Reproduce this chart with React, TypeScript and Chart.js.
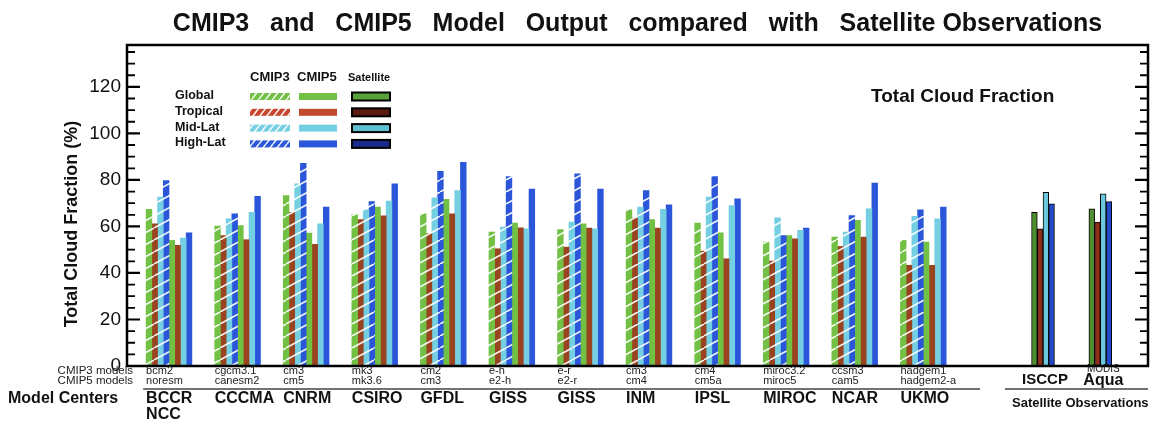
import React, { useEffect, useRef } from 'react';
import { Chart, registerables } from 'chart.js';

Chart.register(...registerables);

// ---------------- data ----------------
const modelCenters = ['BCCR\nNCC', 'CCCMA', 'CNRM', 'CSIRO', 'GFDL', 'GISS', 'GISS', 'INM', 'IPSL', 'MIROC', 'NCAR', 'UKMO'];
const cmip3Models = ['bcm2', 'cgcm3.1', 'cm3', 'mk3', 'cm2', 'e-h', 'e-r', 'cm3', 'cm4', 'miroc3.2', 'ccsm3', 'hadgem1'];
const cmip5Models = ['noresm', 'canesm2', 'cm5', 'mk3.6', 'cm3', 'e2-h', 'e2-r', 'cm4', 'cm5a', 'miroc5', 'cam5', 'hadgem2-a'];

const cmip3Global = [67.3, 60.1, 73.3, 65.1, 65.4, 57.6, 58.6, 67.1, 61.4, 53.3, 55.4, 54.0];
const cmip3Tropical = [61.1, 56.1, 66.1, 62.9, 56.9, 50.4, 51.1, 63.6, 49.4, 45.1, 51.4, 43.3];
const cmip3MidLat = [72.6, 63.3, 78.3, 67.1, 72.3, 59.7, 61.9, 68.3, 72.6, 63.7, 57.6, 64.3];
const cmip3HighLat = [79.7, 65.4, 87.1, 70.7, 83.7, 81.4, 82.6, 75.4, 81.4, 56.1, 64.7, 67.1];

const cmip5Global = [54.0, 60.4, 57.1, 68.3, 71.6, 61.4, 61.1, 63.0, 57.3, 56.1, 62.6, 53.3];
const cmip5Tropical = [51.9, 54.3, 52.3, 64.6, 65.4, 59.4, 59.3, 59.3, 46.1, 54.7, 55.4, 43.3];
const cmip5MidLat = [55.0, 66.1, 61.1, 70.9, 75.4, 59.0, 59.0, 67.3, 69.0, 58.3, 67.6, 63.3];
const cmip5HighLat = [57.3, 72.9, 68.3, 78.3, 87.6, 76.1, 76.1, 69.3, 71.9, 59.3, 78.6, 68.3];

const satellites = ['ISCCP', 'MODIS\nAqua'];
const satGlobal = [66.1, 67.6];
const satTropical = [59.0, 61.9];
const satMidLat = [74.7, 74.0];
const satHighLat = [69.7, 70.7];

const yTickStep = 20;
const legendRows = ['Global', 'Tropical', 'Mid-Lat', 'High-Lat'];
const legendCols = ['CMIP3', 'CMIP5', 'Satellite'];

// ---------------- layout / style ----------------
const FONT = '"Liberation Sans", Arial, Helvetica, sans-serif';
const Y_MAX = 138;
const X_MIN = -0.6125;
const X_MAX = 14.277;
const SAT_X = [12.746, 13.582];
const BAR_W = 5.72;

const COL = {
  g: '#72c145',
  t: '#9a4320',
  m: '#74cfe3',
  h: '#2b56d9',
};
const SAT_COL = { g: '#4f8e2e', t: '#8a2f1a', m: '#6cc9dd', h: '#2348c8' };
const LEG_SAT = { g: '#5aa13a', t: '#5a1a12', m: '#5fc0d0', h: '#1a2a8a' };

function makeHatch(color: string, w: number, h: number, lw: number) {
  const c = document.createElement('canvas');
  c.width = w;
  c.height = h;
  const g = c.getContext('2d')!;
  g.fillStyle = color;
  g.fillRect(0, 0, w, h);
  g.strokeStyle = 'rgba(255,255,255,0.92)';
  g.lineWidth = lw;
  g.beginPath();
  for (const dx of [-w, 0, w]) {
    g.moveTo(dx, h);
    g.lineTo(dx + w, 0);
  }
  g.stroke();
  return g.createPattern(c, 'repeat')!;
}

export default function App() {
  const ref = useRef<HTMLCanvasElement>(null);

  useEffect(() => {
    const canvas = ref.current!;
    const modelX = cmip3Models.map((_, i) => i);
    const pts = (vals: number[], xs: number[]) => vals.map((v, i) => ({ x: xs[i], y: v }));

    const hatch = {
      g: makeHatch(COL.g, 22, 12, 1.6),
      t: makeHatch(COL.t, 22, 12, 1.6),
      m: makeHatch(COL.m, 22, 12, 1.6),
      h: makeHatch(COL.h, 22, 12, 1.6),
    };
    const legHatch = {
      g: makeHatch(COL.g, 7, 9, 1.6),
      t: makeHatch('#c8452e', 7, 9, 1.6),
      m: makeHatch(COL.m, 7, 9, 1.6),
      h: makeHatch(COL.h, 7, 9, 1.6),
    };
    const legSolid = { g: COL.g, t: '#c24a2c', m: COL.m, h: COL.h };

    const modelDs = (label: string, vals: number[], bg: any) => ({
      label,
      data: pts(vals, modelX),
      backgroundColor: bg,
      borderWidth: 0,
    });
    const satDs = (label: string, vals: number[], bg: string) => ({
      label,
      data: pts(vals, SAT_X),
      backgroundColor: bg,
      borderColor: '#000',
      borderWidth: 1,
    });

    const decor = {
      id: 'decor',
      beforeDraw(chart: any) {
        const { ctx, width, height } = chart;
        ctx.save();
        ctx.fillStyle = '#fff';
        ctx.fillRect(0, 0, width, height);
        ctx.restore();
      },
      afterDraw(chart: any) {
        const { ctx, chartArea: a, scales } = chart;
        const xs = scales.x;
        const ys = scales.y;
        ctx.save();

        // frame
        ctx.strokeStyle = '#000';
        ctx.lineWidth = 2.5;
        ctx.strokeRect(a.left, a.top, a.right - a.left, a.bottom - a.top);

        // inward ticks on both sides
        for (let v = 5; v < Y_MAX; v += 5) {
          const y = ys.getPixelForValue(v);
          const major = v % yTickStep === 0;
          const len = major ? 13 : 8;
          ctx.lineWidth = major ? 2.2 : 1.8;
          ctx.beginPath();
          ctx.moveTo(a.left, y);
          ctx.lineTo(a.left + len, y);
          ctx.moveTo(a.right, y);
          ctx.lineTo(a.right - len, y);
          ctx.stroke();
        }

        ctx.fillStyle = '#111';

        // title
        ctx.font = `bold 25px ${FONT}`;
        ctx.textAlign = 'center';
        ctx.textBaseline = 'alphabetic';
        ctx.fillText('CMIP3   and   CMIP5   Model   Output   compared   with   Satellite Observations', (a.left + a.right) / 2, 31);
        ctx.textBaseline = 'middle';

        // y-axis title
        ctx.save();
        ctx.translate(72, 224);
        ctx.rotate(-Math.PI / 2);
        ctx.font = `bold 18px ${FONT}`;
        ctx.textAlign = 'center';
        ctx.fillText('Total Cloud Fraction (%)', 0, 0);
        ctx.restore();

        // annotation
        ctx.font = `bold 19px ${FONT}`;
        ctx.textAlign = 'left';
        ctx.fillText('Total Cloud Fraction', 871, 97);

        // legend table
        const colX = [250, 299, 352];
        const colW = [40, 38, 38];
        ctx.font = `bold 13px ${FONT}`;
        ctx.fillText(legendCols[0], colX[0], 77);
        ctx.fillText(legendCols[1], colX[1] - 2, 77);
        ctx.font = `bold 11px ${FONT}`;
        ctx.fillText(legendCols[2], colX[2] - 4, 78);
        const keys: ('g' | 't' | 'm' | 'h')[] = ['g', 't', 'm', 'h'];
        legendRows.forEach((r, i) => {
          const y = 95.5 + i * 15.8;
          ctx.fillStyle = '#111';
          ctx.font = `bold 12.5px ${FONT}`;
          ctx.fillText(r, 175, y);
          const k = keys[i];
          ctx.fillStyle = legHatch[k];
          ctx.fillRect(colX[0], y - 2.5, colW[0], 7);
          ctx.fillStyle = legSolid[k];
          ctx.fillRect(colX[1], y - 2.5, colW[1], 7);
          ctx.fillStyle = LEG_SAT[k];
          ctx.fillRect(colX[2], y - 3, colW[2], 8);
          ctx.strokeStyle = '#000';
          ctx.lineWidth = 2;
          ctx.strokeRect(colX[2], y - 3, colW[2], 8);
        });

        // bottom labels
        ctx.fillStyle = '#222';
        ctx.font = `11.5px ${FONT}`;
        ctx.textAlign = 'right';
        ctx.fillText('CMIP3 models', 133, 371);
        ctx.fillText('CMIP5 models', 133, 381);
        ctx.font = `bold 16px ${FONT}`;
        ctx.textAlign = 'left';
        ctx.fillStyle = '#111';
        ctx.fillText('Model Centers', 8, 399);

        const half = 4 * BAR_W;
        modelCenters.forEach((c, i) => {
          const left = xs.getPixelForValue(i) - half;
          ctx.fillStyle = '#222';
          ctx.font = `11px ${FONT}`;
          ctx.fillText(cmip3Models[i], left, 371);
          ctx.fillText(cmip5Models[i], left, 381);
          ctx.fillStyle = '#111';
          ctx.font = `bold 16px ${FONT}`;
          c.split('\n').forEach((line, j) => ctx.fillText(line, left, 399 + j * 15.5));
        });

        // separator lines
        ctx.strokeStyle = '#444';
        ctx.lineWidth = 1.5;
        ctx.beginPath();
        ctx.moveTo(xs.getPixelForValue(0) - half - 3, 389);
        ctx.lineTo(980, 389);
        ctx.moveTo(1005, 389);
        ctx.lineTo(a.right, 389);
        ctx.stroke();

        // satellite labels
        ctx.fillStyle = '#111';
        ctx.textAlign = 'center';
        const s0 = xs.getPixelForValue(SAT_X[0]);
        const s1 = xs.getPixelForValue(SAT_X[1]);
        ctx.font = `bold 15px ${FONT}`;
        ctx.fillText(satellites[0], s0 + 2, 380);
        const [l1, l2] = satellites[1].split('\n');
        ctx.font = `10px ${FONT}`;
        ctx.fillText(l1, s1 + 3, 369);
        ctx.font = `bold 16px ${FONT}`;
        ctx.fillText(l2, s1 + 3, 381);
        ctx.font = `bold 13px ${FONT}`;
        ctx.textAlign = 'left';
        ctx.fillText('Satellite Observations', 1012, 403);

        ctx.restore();
      },
    };

    const chart = new Chart(canvas, {
      type: 'bar',
      data: {
        datasets: [
          modelDs('CMIP3 Global', cmip3Global, hatch.g),
          modelDs('CMIP3 Tropical', cmip3Tropical, hatch.t),
          modelDs('CMIP3 Mid-Lat', cmip3MidLat, hatch.m),
          modelDs('CMIP3 High-Lat', cmip3HighLat, hatch.h),
          modelDs('CMIP5 Global', cmip5Global, COL.g),
          modelDs('CMIP5 Tropical', cmip5Tropical, COL.t),
          modelDs('CMIP5 Mid-Lat', cmip5MidLat, COL.m),
          modelDs('CMIP5 High-Lat', cmip5HighLat, COL.h),
          satDs('Satellite Global', satGlobal, SAT_COL.g),
          satDs('Satellite Tropical', satTropical, SAT_COL.t),
          satDs('Satellite Mid-Lat', satMidLat, SAT_COL.m),
          satDs('Satellite High-Lat', satHighLat, SAT_COL.h),
        ] as any,
      },
      options: {
        responsive: true,
        maintainAspectRatio: false,
        animation: false,
        layout: { padding: { top: 45, bottom: 58, left: 0, right: 4 } },
        plugins: {
          legend: { display: false },
          tooltip: { enabled: false },
          title: { display: false },
        },
        datasets: {
          bar: { skipNull: true, barThickness: BAR_W, grouped: true },
        } as any,
        scales: {
          x: { type: 'linear', min: X_MIN, max: X_MAX, offset: false, display: false, grid: { offset: false } },
          y: {
            min: 0,
            max: Y_MAX,
            afterFit: (s: any) => {
              s.width = 127;
            },
            grid: { display: false, drawTicks: false },
            border: { display: false },
            ticks: {
              stepSize: yTickStep,
              includeBounds: false,
              padding: 6,
              labelOffset: 0,
              color: '#111',
              font: { family: FONT, size: 19 },
            },
          },
        } as any,
      },
      plugins: [decor],
    });
    return () => chart.destroy();
  }, []);

  return (
    <div style={{ position: 'fixed', left: 0, top: 0, width: 1152, height: 424, background: '#fff' }}>
      <canvas ref={ref} />
    </div>
  );
}
